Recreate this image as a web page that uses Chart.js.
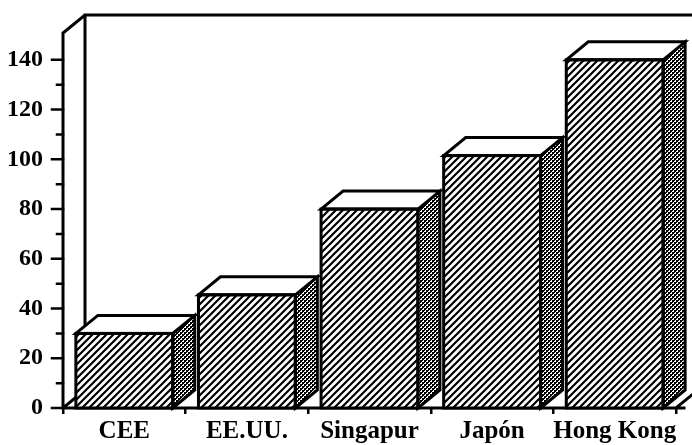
<!DOCTYPE html>
<html><head><meta charset="utf-8">
<script src="https://cdn.jsdelivr.net/npm/chart.js@4/dist/chart.umd.min.js"></script>
<style>html,body{margin:0;padding:0;background:#fff;}</style>
</head><body>
<canvas id="c" width="692" height="445"></canvas>
<script>
const categories = ['CEE', 'EE.UU.', 'Singapur', 'Japón', 'Hong Kong'];
const values = [30, 45.5, 80, 101.5, 140];
const yMajorTicks = [0, 20, 40, 60, 80, 100, 120, 140];
const yMinorTicks = [10, 30, 50, 70, 90, 110, 130];
const yMax = 150;

const DX = 22, DY = -18;
const FONT = '"Liberation Serif", "Times New Roman", serif';

function makeHatch() {
  const s = 7, c = document.createElement('canvas');
  c.width = s; c.height = s;
  const g = c.getContext('2d');
  g.fillStyle = '#fff'; g.fillRect(0, 0, s, s);
  g.strokeStyle = '#000'; g.lineWidth = 2.2;
  g.beginPath();
  g.moveTo(-1, s + 1); g.lineTo(s + 1, -1);
  g.moveTo(-2, 2); g.lineTo(2, -2);
  g.moveTo(s - 2, s + 2); g.lineTo(s + 2, s - 2);
  g.stroke();
  return g.createPattern(c, 'repeat');
}
function makeStipple() {
  const c = document.createElement('canvas');
  c.width = 4; c.height = 4;
  const g = c.getContext('2d');
  g.fillStyle = '#fff'; g.fillRect(0, 0, 4, 4);
  g.fillStyle = '#000';
  g.fillRect(0, 0, 2, 2); g.fillRect(2, 2, 2, 2);
  g.fillRect(2, 0, 1, 1); g.fillRect(0, 2, 1, 1);
  return g.createPattern(c, 'repeat');
}
const ctx0 = document.getElementById('c').getContext('2d');
const hatch = makeHatch();
const stipple = makeStipple();

const threeD = {
  id: 'threeD',
  beforeDatasetsDraw(chart) {
    const { ctx, chartArea: a } = chart;
    ctx.save();
    ctx.strokeStyle = '#000'; ctx.lineWidth = 3; ctx.lineCap = 'square';
    ctx.beginPath();
    // left wall
    ctx.moveTo(a.left, a.bottom); ctx.lineTo(a.left, a.top - 2);
    ctx.lineTo(a.left + DX, a.top - 2 + DY);
    ctx.lineTo(chart.width, a.top - 2 + DY);
    ctx.moveTo(a.left + DX, a.top - 2 + DY); ctx.lineTo(a.left + DX, a.bottom + DY);
    // floor
    ctx.moveTo(a.left, a.bottom); ctx.lineTo(a.left + DX, a.bottom + DY);
    ctx.moveTo(a.left, a.bottom); ctx.lineTo(a.right + 8, a.bottom);
    ctx.moveTo(a.right, a.bottom); ctx.lineTo(a.right + DX, a.bottom + DY);
    ctx.stroke();
    // y ticks
    const ys = chart.scales.y;
    ctx.lineWidth = 2.5;
    ctx.beginPath();
    yMajorTicks.forEach(v => { const p = ys.getPixelForValue(v); ctx.moveTo(a.left - 11, p); ctx.lineTo(a.left, p); });
    yMinorTicks.forEach(v => { const p = ys.getPixelForValue(v); ctx.moveTo(a.left - 6, p); ctx.lineTo(a.left, p); });
    ctx.stroke();
    ctx.restore();
  },
  afterDatasetsDraw(chart) {
    const { ctx } = chart;
    const meta = chart.getDatasetMeta(0);
    ctx.save();
    ctx.strokeStyle = '#000'; ctx.lineWidth = 3; ctx.lineJoin = 'miter';
    meta.data.forEach(bar => {
      const p = bar.getProps(['x', 'y', 'base', 'width'], true);
      const l = p.x - p.width / 2, r = p.x + p.width / 2, t = p.y, b = p.base;
      // side
      ctx.beginPath();
      ctx.moveTo(r, t); ctx.lineTo(r + DX, t + DY); ctx.lineTo(r + DX, b + DY); ctx.lineTo(r, b); ctx.closePath();
      ctx.fillStyle = stipple; ctx.fill(); ctx.stroke();
      // top
      ctx.beginPath();
      ctx.moveTo(l, t); ctx.lineTo(l + DX, t + DY); ctx.lineTo(r + DX, t + DY); ctx.lineTo(r, t); ctx.closePath();
      ctx.fillStyle = '#fff'; ctx.fill(); ctx.stroke();
      // front outline
      ctx.strokeRect(l, t, r - l, b - t);
    });
    ctx.restore();
  }
};

new Chart(ctx0, {
  type: 'bar',
  data: {
    labels: categories,
    datasets: [{
      data: values,
      backgroundColor: hatch,
      borderWidth: 0,
      barPercentage: 0.79,
      categoryPercentage: 1
    }]
  },
  options: {
    responsive: false,
    devicePixelRatio: 1,
    animation: false,
    events: [],
    layout: { padding: { top: 35, right: 16, left: 0, bottom: 0 } },
    plugins: { legend: { display: false }, tooltip: { enabled: false } },
    scales: {
      x: {
        offset: true,
        grid: { display: true, drawOnChartArea: false, drawTicks: true, tickLength: 6, color: '#000', lineWidth: 2.5, offset: true },
        border: { display: false },
        ticks: { color: '#000', font: { family: FONT, size: 25, weight: 'bold' }, padding: 3, maxRotation: 0, autoSkip: false },
        afterFit(s) { s.height = 37; }
      },
      y: {
        min: 0, max: yMax,
        grid: { display: false },
        border: { display: false },
        afterBuildTicks(s) { s.ticks = yMajorTicks.map(v => ({ value: v })); },
        ticks: { color: '#000', font: { family: FONT, size: 24, weight: 'bold' }, padding: 12 },
        afterFit(s) { s.width = 63; }
      }
    }
  },
  plugins: [threeD]
});
</script>
</body></html>
